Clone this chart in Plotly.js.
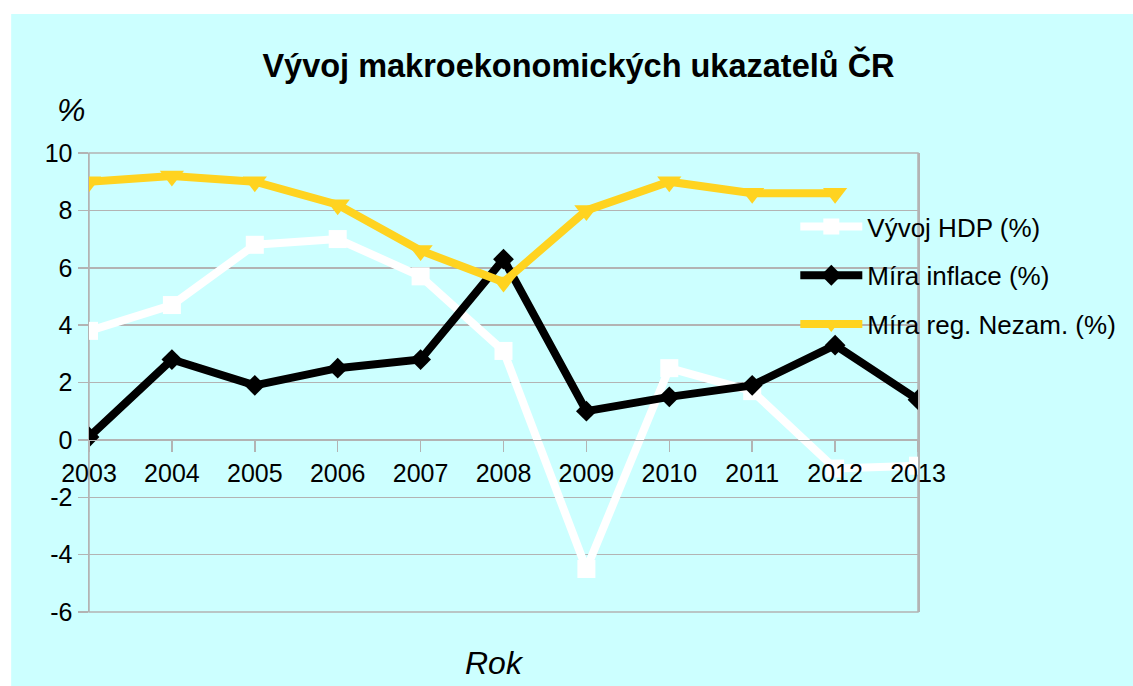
<!DOCTYPE html>
<html>
<head>
<meta charset="utf-8">
<script src="https://cdn.plot.ly/plotly-3.0.1.min.js"></script>
<style>html,body{margin:0;padding:0;background:#fff;}#chart{width:1133px;height:686px;}</style>
</head>
<body>
<div id="chart"></div>
<script>
const years = [2003, 2004, 2005, 2006, 2007, 2008, 2009, 2010, 2011, 2012, 2013];
const hdp = [3.8, 4.7, 6.8, 7.0, 5.7, 3.1, -4.5, 2.5, 1.7, -1.0, -0.9];
const inflace = [0.1, 2.8, 1.9, 2.5, 2.8, 6.3, 1.0, 1.5, 1.9, 3.3, 1.4];
const nezam = [9.0, 9.2, 9.0, 8.2, 6.6, 5.5, 8.0, 9.0, 8.6, 8.6, null];
const seriesNames = ["Vývoj HDP (%)", "Míra inflace (%)", "Míra reg. Nezam. (%)"];
const yTicks = [-6, -4, -2, 0, 2, 4, 6, 8, 10];
const titleText = "Vývoj makroekonomických ukazatelů ČR";
const yLabel = "%";
const xLabel = "Rok";

const FONT = "Liberation Sans, Arial, sans-serif";
const GRID = "#b3b3b3";

const traces = [
  {x: years, y: hdp, name: seriesNames[0], type: "scatter", mode: "lines+markers",
   legendgroup: "a",
   line: {color: "#ffffff", width: 8}, marker: {symbol: "square", size: 18, color: "#ffffff"}},
  {x: years, y: inflace, name: seriesNames[1], type: "scatter", mode: "lines+markers",
   legendgroup: "b",
   line: {color: "#000000", width: 8}, marker: {symbol: "diamond", size: 16, color: "#000000"}},
  {x: years, y: nezam, name: seriesNames[2], type: "scatter", mode: "lines+markers",
   legendgroup: "c", connectgaps: false,
   line: {color: "#ffd320", width: 8}, marker: {symbol: "triangle-down", size: 21, color: "#ffd320"}}
];

const layout = {
  width: 1133, height: 686,
  margin: {l: 89, r: 213, t: 153, b: 74},
  paper_bgcolor: "#ffffff",
  plot_bgcolor: "rgba(0,0,0,0)",
  font: {family: FONT, color: "#000000", size: 25},
  title: {text: "<b>" + titleText + "</b>", font: {family: FONT, size: 32.5, color: "#000000"},
          xref: "container", yref: "container", x: 0.5106, y: 1 - 66/686, xanchor: "center", yanchor: "middle"},
  showlegend: true,
  legend: {x: 0.852, y: 0.891, xanchor: "left", yanchor: "top", bgcolor: "rgba(0,0,0,0)",
           font: {family: FONT, size: 26}, itemwidth: 62, tracegroupgap: 12, traceorder: "grouped"},
  xaxis: {type: "linear", range: [2003, 2013], tickvals: years, ticktext: years.map(String),
          anchor: "free", position: 6/16, showgrid: false, zeroline: false,
          showline: true, linecolor: GRID, linewidth: 1.5,
          ticks: "outside", ticklen: 11, tickcolor: GRID, tickwidth: 1.5,
          tickfont: {family: FONT, size: 25, color: "#000000"}, fixedrange: true},
  yaxis: {range: [-6, 10], tickvals: yTicks, ticktext: yTicks.map(String),
          showgrid: true, gridcolor: GRID, gridwidth: 1.5,
          zeroline: false, showline: true, mirror: true, linecolor: GRID, linewidth: 1.5,
          ticks: "outside", ticklen: 10, tickcolor: GRID, tickwidth: 1.5,
          tickfont: {family: FONT, size: 25, color: "#000000"}, fixedrange: true},
  shapes: [
    {type: "rect", xref: "paper", yref: "paper", x0: -0.0939, x1: 1.26, y0: -0.17, y1: 1.3028,
     fillcolor: "#ccffff", line: {width: 0}, layer: "below"},
    {type: "rect", xref: "paper", yref: "paper", x0: 0, x1: 1, y0: 0, y1: 1,
     fillcolor: "rgba(0,0,0,0)", line: {width: 1.5, color: GRID}, layer: "below"}
  ],
  annotations: [
    {text: "<i>" + yLabel + "</i>", xref: "paper", yref: "paper", x: (71-89)/831, y: (612-110)/459,
     xanchor: "center", yanchor: "middle", showarrow: false, font: {family: FONT, size: 32, color: "#000000"}},
    {text: "<i>" + xLabel + "</i>", xref: "paper", yref: "paper", x: (495-89)/831, y: (612-663)/459,
     xanchor: "center", yanchor: "middle", showarrow: false, font: {family: FONT, size: 32, color: "#000000"}}
  ]
};

Plotly.newPlot("chart", traces, layout, {displayModeBar: false, staticPlot: true});
</script>
</body>
</html>
